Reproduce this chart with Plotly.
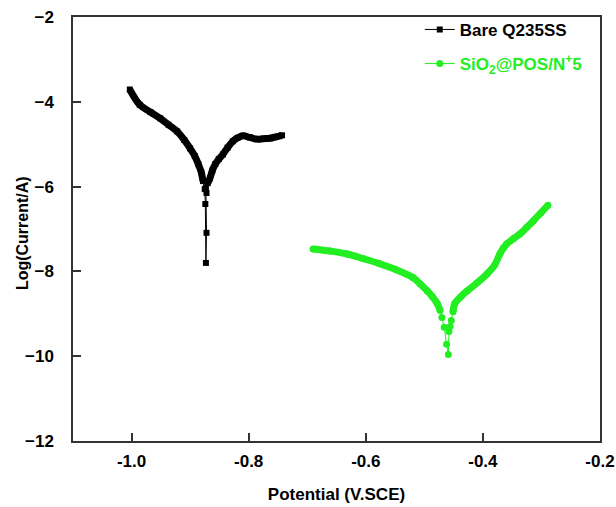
import plotly.graph_objects as go

# Tafel polarisation data: potential (V vs SCE) and log10 current (A)
bare_potential = [-1.003, -0.986, -0.968, -0.951, -0.937, -0.922, -0.910, -0.900, -0.892,
                  -0.886, -0.881, -0.878, -0.875, -0.874, -0.873, -0.872, -0.872, -0.873,
                  -0.870, -0.866, -0.862, -0.857, -0.851, -0.844, -0.836, -0.827, -0.819,
                  -0.810, -0.798, -0.786, -0.775, -0.764, -0.754, -0.743]
bare_logi = [-3.71, -4.07, -4.24, -4.39, -4.54, -4.70, -4.90, -5.10, -5.28,
             -5.47, -5.66, -5.87, -6.06, -6.41, -7.80, -7.09, -6.15, -6.02,
             -5.92, -5.80, -5.62, -5.47, -5.35, -5.24, -5.08, -4.93, -4.85,
             -4.80, -4.84, -4.88, -4.87, -4.86, -4.83, -4.79]

coat_potential = [-0.690, -0.661, -0.632, -0.604, -0.576, -0.548, -0.519, -0.507, -0.495,
                  -0.486, -0.478, -0.473, -0.470, -0.466, -0.462, -0.459, -0.458, -0.456,
                  -0.454, -0.451, -0.448, -0.438, -0.427, -0.410, -0.393, -0.380, -0.371,
                  -0.365, -0.359, -0.348, -0.337, -0.325, -0.314, -0.301, -0.289]
coat_logi = [-7.47, -7.52, -7.59, -7.70, -7.82, -7.96, -8.15, -8.30, -8.46,
             -8.60, -8.76, -8.92, -9.09, -9.32, -9.72, -9.96, -9.42, -9.30,
             -9.16, -8.95, -8.76, -8.60, -8.46, -8.27, -8.06, -7.85, -7.59,
             -7.45, -7.35, -7.23, -7.12, -6.96, -6.81, -6.62, -6.44]

x_ticks = [-1.0, -0.8, -0.6, -0.4, -0.2]
y_ticks = [-12, -10, -8, -6, -4, -2]

BLACK = "#000000"
GREEN = "#22ee22"
FONT = "Liberation Sans, Arial, sans-serif"

# Dense (thick-looking) parts of each sweep, away from the corrosion potential
bare_dense = [(x, y) for x, y in zip(bare_potential, bare_logi) if y > -5.95]
coat_dense = [(x, y) for x, y in zip(coat_potential, coat_logi) if y > -9.0]


def split_branches(pts, xs, ys):
    # split the dense points into the cathodic and anodic branches
    i_min = ys.index(min(ys))
    left = [p for p in pts if xs.index(p[0]) < i_min]
    right = [p for p in pts if xs.index(p[0]) > i_min]
    return left, right


fig = go.Figure()

for xs, ys, dense, color in [
    (bare_potential, bare_logi, bare_dense, BLACK),
    (coat_potential, coat_logi, coat_dense, GREEN),
]:
    for branch in split_branches(dense, xs, ys):
        fig.add_trace(go.Scatter(
            x=[p[0] for p in branch], y=[p[1] for p in branch],
            mode="lines", line=dict(color=color, width=7, shape="spline"),
            showlegend=False, hoverinfo="skip",
        ))

fig.add_trace(go.Scatter(
    x=bare_potential, y=bare_logi, mode="lines+markers",
    name=f'<span style="color:{BLACK}">Bare Q235SS</span>', legendgroup="a",
    line=dict(color=BLACK, width=1),
    marker=dict(symbol="square", size=6, color=BLACK),
))
fig.add_trace(go.Scatter(
    x=coat_potential, y=coat_logi, mode="lines+markers",
    name=f'<span style="color:{GREEN}">SiO<sub>2</sub>@POS/N<sup>+</sup>5</span>',
    legendgroup="b",
    line=dict(color=GREEN, width=1),
    marker=dict(symbol="circle", size=7, color=GREEN),
))

axis_common = dict(
    showline=True, linecolor="#333333", linewidth=1.5, mirror=True,
    ticks="inside", ticklen=8, tickwidth=1.5, tickcolor="#333333",
    showgrid=False, zeroline=False, automargin=False,
    tickfont=dict(family=FONT, size=17, color=BLACK, weight="bold"),
)

fig.update_layout(
    width=616, height=507,
    margin=dict(l=73, r=16, t=15, b=66),
    paper_bgcolor="white", plot_bgcolor="white",
    font=dict(family=FONT, color=BLACK),
    xaxis=dict(range=[-1.1, -0.2], tickvals=x_ticks,
               ticktext=[f"{v:.1f}" for v in x_ticks],
               ticklabelstandoff=4,
               title=dict(text="Potential (V.SCE)", standoff=18,
                          font=dict(family=FONT, size=17, color=BLACK, weight="bold")),
               **axis_common),
    yaxis=dict(range=[-12, -2], tickvals=y_ticks,
               ticklabelstandoff=14,
               **axis_common),
    legend=dict(
        x=0.658, y=1.012, xanchor="left", yanchor="top",
        bgcolor="rgba(0,0,0,0)", borderwidth=0,
        traceorder="grouped", tracegroupgap=9,
        font=dict(family=FONT, size=17, weight="bold"),
    ),
    annotations=[dict(
        text="Log(Current/A)", textangle=-90, showarrow=False,
        xref="paper", yref="paper", x=-0.097, y=0.49,
        xanchor="center", yanchor="middle",
        font=dict(family=FONT, size=16, color=BLACK, weight="bold"),
    )],
)

fig.write_html("out.html")
